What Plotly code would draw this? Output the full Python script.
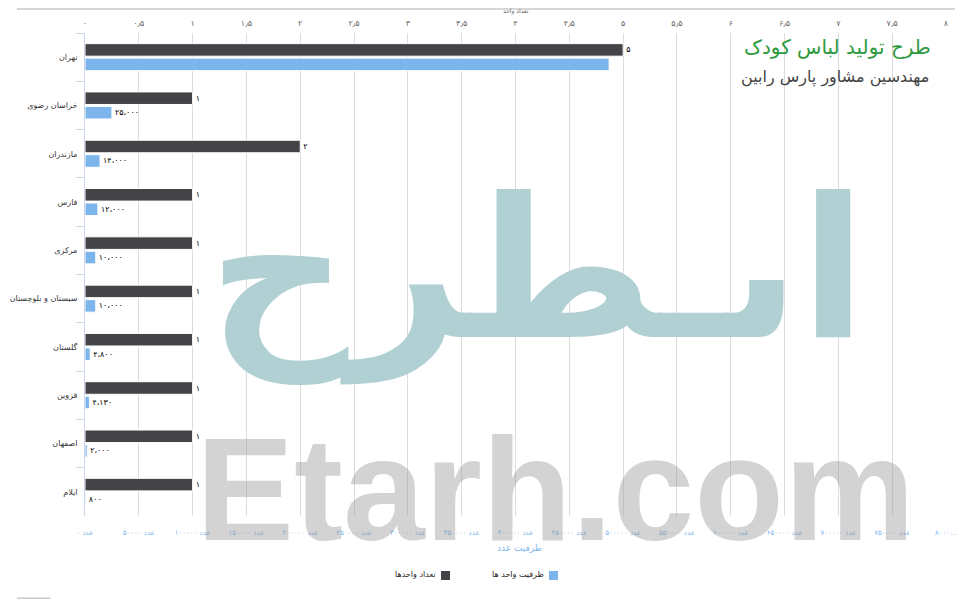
import plotly.graph_objects as go

provinces = ["تهران", "خراسان رضوی", "مازندران", "فارس", "مرکزی",
             "سیستان و بلوچستان", "گلستان", "قزوین", "اصفهان", "ایلام"]
units = [5, 1, 2, 1, 1, 1, 1, 1, 1, 1]
capacity = [487000, 25000, 14000, 12000, 10000, 10000, 4800, 4130, 2000, 800]
show_cap_label = [False, True, True, True, True, True, True, True, True, True]

unit_ticks = [i * 0.5 for i in range(17)]
cap_ticks = [i * 50000 for i in range(17)]

series_units = "تعداد واحدها"
series_cap = "ظرفیت واحد ها"
title = "طرح تولید لباس کودک"
subtitle = "مهندسین مشاور پارس رابین"
top_axis_title = "تعداد واحد"
bottom_axis_title = "ظرفیت عدد"

FA = str.maketrans("0123456789", "۰۱۲۳۴۵۶۷۸۹")


def fa(s):
    return str(s).translate(FA)


def fa_num(v):
    return fa(f"{v:,}").replace(",", "،")


def fa_dec(v):
    if float(v).is_integer():
        return fa(int(v))
    return fa(str(v)).replace(".", "٫")


unit_ticktext = [fa_dec(v) for v in unit_ticks]
cap_ticktext = ["عدد " + fa(v) for v in cap_ticks]
cap_ticktext[-1] = "۸۰۰۰…"

DARK = "#434348"
BLUE = "#7cb5ec"
FONT = "DejaVu Sans"

fig = go.Figure()
fig.add_trace(go.Bar(
    y=provinces, x=units, orientation="h", name=series_units,
    xaxis="x", yaxis="y",
    marker=dict(color=DARK, line=dict(color="white", width=1)),
    width=0.26, offset=-0.28,
    text=[fa(v) for v in units], textposition="outside",
    textfont=dict(family=FONT, size=8, color="#000"),
    cliponaxis=False, showlegend=False,
))
fig.add_trace(go.Bar(
    y=provinces, x=capacity, orientation="h", name=series_cap,
    xaxis="x2", yaxis="y",
    marker=dict(color=BLUE, line=dict(color="white", width=1)),
    width=0.26, offset=0.02,
    text=[fa_num(v) if s else "" for v, s in zip(capacity, show_cap_label)],
    textposition="outside",
    textfont=dict(family=FONT, size=8, color="#000"),
    cliponaxis=False, showlegend=False,
))

ann = []
# watermark
ann.append(dict(text="<b>اىـطرح</b>", x=0.526, y=0.508, xref="paper", yref="paper",
                showarrow=False, font=dict(family=FONT, size=195, color="#b0d0d4")))
ann.append(dict(text="<b>Etarh.com</b>", x=0.546, y=-0.118, xref="paper", yref="paper",
                showarrow=False, font=dict(family="Liberation Sans", size=147,
                                           color="rgba(150,150,150,0.42)")))
# titles
ann.append(dict(text=title, x=0.985, y=0.971, xref="paper", yref="paper",
                xanchor="right", yanchor="middle", showarrow=False,
                font=dict(family=FONT, size=20, color="#2e9a3e")))
ann.append(dict(text=subtitle, x=0.982, y=0.908, xref="paper", yref="paper",
                xanchor="right", yanchor="middle", showarrow=False,
                font=dict(family=FONT, size=16, color="#444444")))
ann.append(dict(text=top_axis_title, x=0.5, y=1.045, xref="paper", yref="paper",
                xanchor="center", yanchor="middle", showarrow=False,
                font=dict(family=FONT, size=6, color="#666666")))
ann.append(dict(text=bottom_axis_title, x=0.505, y=-0.066, xref="paper", yref="paper",
                xanchor="center", yanchor="middle", showarrow=False,
                font=dict(family=FONT, size=9, color=BLUE)))
# legend
ann.append(dict(text=series_units, x=0.41, y=-0.122, xref="paper", yref="paper",
                xanchor="right", yanchor="middle", showarrow=False,
                font=dict(family=FONT, size=8, color="#222222")))
ann.append(dict(text=series_cap, x=0.5354, y=-0.122, xref="paper", yref="paper",
                xanchor="right", yanchor="middle", showarrow=False,
                font=dict(family=FONT, size=8, color="#222222")))

shapes = [
    dict(type="rect", xref="paper", yref="paper", x0=0.4135, x1=0.4239,
         y0=-0.1139, y1=-0.1325, fillcolor=DARK, line=dict(width=0)),
    dict(type="rect", xref="paper", yref="paper", x0=0.5389, x1=0.5494,
         y0=-0.1139, y1=-0.1325, fillcolor=BLUE, line=dict(width=0)),
    dict(type="line", xref="paper", yref="paper", x0=-0.079, x1=1.0105,
         y0=1.0497, y1=1.0497, line=dict(color="#b0b0b0", width=1)),
    dict(type="line", xref="paper", yref="paper", x0=-0.079, x1=-0.04,
         y0=-0.17, y1=-0.17, line=dict(color="#b0b0b0", width=1)),
]

fig.update_layout(
    width=965, height=600,
    margin=dict(l=77, r=27, t=25, b=92),
    paper_bgcolor="white", plot_bgcolor="white",
    font=dict(family=FONT, size=8, color="#333"),
    barmode="overlay",
    xaxis=dict(side="top", range=[0, 8], tickvals=unit_ticks, ticktext=unit_ticktext,
               showgrid=True, gridcolor="#dcdcdc", gridwidth=1, zeroline=False,
               ticks="outside", ticklen=3, tickcolor="rgba(0,0,0,0)", automargin=False,
               tickfont=dict(family=FONT, size=8, color="#666666"), fixedrange=True),
    xaxis2=dict(side="bottom", overlaying="x", anchor="y", range=[0, 800000],
                tickvals=cap_ticks, ticktext=cap_ticktext, showgrid=False, zeroline=False,
                ticks="outside", ticklen=10, tickcolor="rgba(0,0,0,0)", automargin=False,
                tickfont=dict(family=FONT, size=7, color=BLUE)),
    yaxis=dict(categoryorder="array", categoryarray=provinces, autorange="reversed",
               showline=True, linecolor="#ccd6eb", linewidth=1, automargin=False,
               ticks="outside", tickson="boundaries", ticklen=8, tickcolor="#ccd6eb",
               ticklabelstandoff=5,
               tickfont=dict(family=FONT, size=8, color="#333333"), showgrid=False),
    annotations=ann,
    shapes=shapes,
)

fig.write_html("out.html")
